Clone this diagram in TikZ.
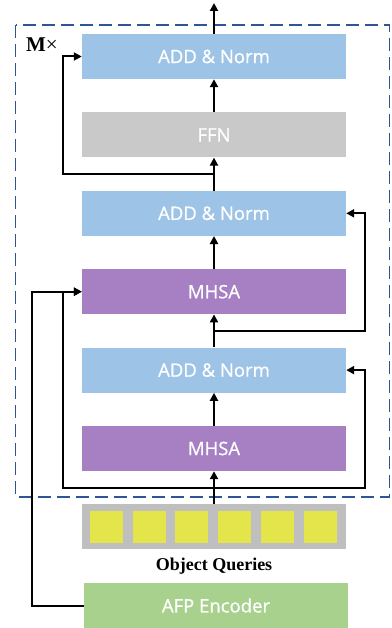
\documentclass[tikz,border=0pt]{standalone}
\usepackage{fontspec}
\setsansfont{Open Sans}[FakeBold=0.8]
\newfontfamily\qfont{Liberation Serif}
\usetikzlibrary{arrows.meta,positioning,calc}

\definecolor{addblue}{HTML}{9DC3E6}
\definecolor{ffngray}{HTML}{C9C9C9}
\definecolor{mhsapurple}{HTML}{A780C4}
\definecolor{afpgreen}{HTML}{A9D18E}
\definecolor{qyellow}{HTML}{E4E54A}
\definecolor{qgray}{HTML}{BFBFBF}
\definecolor{boxblue}{HTML}{2F5597}

\begin{document}
\begin{tikzpicture}[
  x=1pt, y=-1pt,
  >=Stealth,
  % --- shared block base ---
  blkbase/.style={
    minimum width=264pt, minimum height=45pt, inner sep=0pt,
    text=white, font=\sffamily\fontsize{18.5}{21}\selectfont
  },
  % --- block types ---
  addn/.style={blkbase, fill=addblue},
  ffnblk/.style={blkbase, fill=ffngray},
  mhsablk/.style={blkbase, fill=mhsapurple},
  afpblk/.style={blkbase, fill=afpgreen},
  qbar/.style={minimum width=264pt, minimum height=45pt, inner sep=0pt, fill=qgray},
  qcell/.style={minimum width=33pt, minimum height=32pt, inner sep=0pt, fill=qyellow},
  % --- labels ---
  lbl/.style={font=\qfont\bfseries\fontsize{18}{21}\selectfont, inner sep=0pt},
  % --- arrows ---
  arr/.style={-{Triangle[length=8pt, width=8pt]}, line width=2pt},
]
\useasboundingbox (0,0) rectangle (391,628);

% ===================== REPEATED BLOCK =====================

\draw[boxblue, line width=1.8pt, dash pattern=on 13pt off 6pt]
  (15.5,25) rectangle (389.5,497);
\node[lbl, font=\qfont\fontsize{21}{24}\selectfont] (mx) at (42,45) {\textbf{M}×};

\node[mhsablk] (mhsaA) at (214,448.5) {MHSA};
\node[addn, above=33pt of mhsaA] (addA) {ADD \& Norm};
\node[mhsablk, above=33pt of addA] (mhsaB) {MHSA};
\node[addn, above=33pt of mhsaB] (addB) {ADD \& Norm};
\node[ffnblk, above=33pt of addB] (ffn) {FFN};
\node[addn, above=33pt of ffn] (addC) {ADD \& Norm};

% ===================== INPUTS =====================

\node[qbar, below=33pt of mhsaA] (queries) {};
\foreach \i in {1,...,6}
  \node[qcell] (q\i) at ($(queries.west)+(24.5+42.8*\i-42.8,0)$) {};
\node[lbl, below=8pt of queries] (qlbl) {Object Queries};

\node[afpblk] (afp) at (216,605.5) {AFP Encoder};

\coordinate (out) at (214,3);

% ===================== ARROWS =====================

\draw[arr] (addC.north) -- (out);
\draw[arr] (ffn.north) -- (addC.south);
\draw[arr] (addB.north) -- (ffn.south);
\draw[arr] (mhsaB.north) -- (addB.south);
\draw[arr] (addA.north) -- (mhsaB.south);
\draw[arr] (mhsaA.north) -- (addA.south);
\draw[arr] (queries.north) -- (mhsaA.south);

% residual branches
\coordinate (brC) at ($(addB.north)!0.5!(ffn.south)$);
\coordinate (brB) at ($(addA.north)!0.5!(mhsaB.south)$);
\coordinate (brA) at ($(queries.north)!0.5!(mhsaA.south)$);

\draw[arr] (brC) -- ++(-151,0) |- (addC.west);
\draw[arr] (brB) -- ++(151,0) |- (addB.east);
\draw[arr] (brA) -- ++(151,0) |- (addA.east);
\draw[arr] (brA) -- ++(-151,0) |- (mhsaB.west);

% encoder memory
\draw[arr] (afp.west) -- ++(-52,0) |- (mhsaB.west);

\end{tikzpicture}
\end{document}
